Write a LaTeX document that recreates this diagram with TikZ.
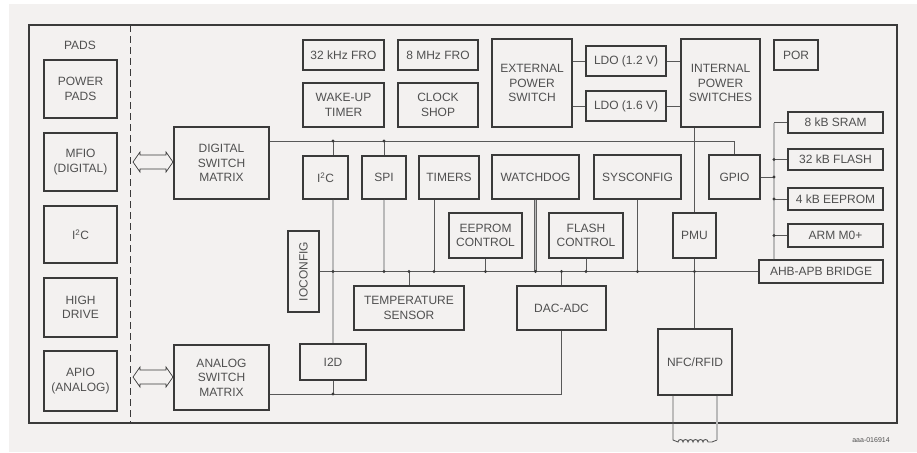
\documentclass[tikz,border=0pt]{standalone}
\usepackage{fontspec}
\setmainfont{Liberation Sans}
\definecolor{bg}{HTML}{F3F1F0}
\definecolor{ln}{HTML}{3A3A3A}
\definecolor{tx}{HTML}{505050}
\tikzset{
  box/.style={draw=ln, line width=1.3pt, inner sep=0pt, align=center, text=tx,
    font=\fontsize{12}{14.5}\selectfont},
  wire/.style={draw=ln!85, line width=0.9pt},
  thickwire/.style={draw=ln!80, line width=0.5pt, double=gray!55, double distance=1.3pt},
  jdot/.style={circle, fill=ln, inner sep=0pt, minimum size=3.4pt},
  hollowarrow/.style={draw=ln, line width=0.7pt},
}
\newcommand\bx[6]{\node[box, minimum width={(#4)-(#2)}, minimum height={(#5)-(#3)}] (#1) at ({((#2)+(#4))/2},{((#3)+(#5))/2}) {#6};}
\begin{document}
\begin{tikzpicture}[x=1pt,y=-1pt]
\useasboundingbox (0,0) rectangle (917,452);
\fill[white] (0,0) rectangle (917,452);
\fill[bg] (9,4) rectangle (917,452);
% chip outline and pad separator
\draw[ln, line width=1.3pt] (29,25) rectangle (897,423);
\draw[ln, line width=0.8pt, dash pattern=on 7pt off 4pt] (130,25) -- (130,423);
\node[text=tx, font=\fontsize{12}{14.5}\selectfont] (pads) at (80,45) {PADS};
% pads
\bx{pwr}{44}{60}{117}{118}{POWER\\PADS}
\bx{mfio}{44}{133}{117}{191}{MFIO\\(DIGITAL)}
\bx{pi2c}{44}{206}{117}{263}{I\textsuperscript{2}C}
\bx{hd}{44}{278}{117}{337}{HIGH\\DRIVE}
\bx{apio}{44}{351}{117}{411}{APIO\\(ANALOG)}
% switch matrices
\bx{dsm}{174}{127}{269}{199}{DIGITAL\\SWITCH\\MATRIX}
\bx{asm}{174}{345}{269}{410}{ANALOG\\SWITCH\\MATRIX}
% top row
\bx{fa}{303}{40}{384}{70}{32 kHz FRO}
\bx{fb}{398}{40}{478}{70}{8 MHz FRO}
\bx{wut}{303}{83}{384}{127}{WAKE-UP\\TIMER}
\bx{clk}{398}{83}{478}{127}{CLOCK\\SHOP}
\bx{eps}{492}{39}{572}{127}{EXTERNAL\\POWER\\SWITCH}
\bx{ldoa}{586}{46}{666}{76}{LDO (1.2 V)}
\bx{ldob}{586}{91}{666}{121}{LDO (1.6 V)}
\bx{ips}{681}{39}{760}{127}{INTERNAL\\POWER\\SWITCHES}
\bx{por}{774}{40}{818}{70}{POR}
% peripherals
\bx{i2c}{303}{156}{348}{199}{I\textsuperscript{2}C}
\bx{spi}{362}{156}{406}{199}{SPI}
\bx{tim}{419}{156}{479}{199}{TIMERS}
\bx{wd}{492}{155}{579}{199}{WATCHDOG}
\bx{sys}{594}{155}{681}{199}{SYSCONFIG}
\bx{gpio}{709}{155}{760}{199}{GPIO}
\bx{eec}{449}{213}{522}{258}{EEPROM\\CONTROL}
\bx{flc}{549}{213}{623}{258}{FLASH\\CONTROL}
\bx{pmu}{673}{213}{716}{258}{PMU}
\bx{ioc}{288}{231}{319}{312}{\rotatebox{90}{IOCONFIG}}
\bx{temp}{354}{286}{464}{330}{TEMPERATURE\\SENSOR}
\bx{dac}{517}{286}{606}{330}{DAC-ADC}
\bx{i2d}{300}{344}{366}{380}{I2D}
\bx{nfc}{658}{329}{732}{395}{NFC/RFID}
% memories
\bx{sram}{788}{112}{883}{133}{8 kB SRAM}
\bx{fl32}{788}{149}{883}{170}{32 kB FLASH}
\bx{ee4}{788}{188}{883}{210}{4 kB EEPROM}
\bx{arm}{788}{224}{883}{247}{ARM M0+}
\bx{ahb}{759}{260}{883}{283}{AHB-APB BRIDGE}
% helper coordinates
\coordinate (Y1) at (0,141);
\coordinate (Y3) at (0,394);
\coordinate (X1) at (333,0);
\coordinate (XT) at (434,0);
\coordinate (XM) at (774,0);
% upper bus
\draw[wire] (dsm.east |- Y1) -- (gpio.north |- Y1) -- (gpio.north);
\draw[wire] (X1 |- Y1) -- (X1 |- i2c.north);
\draw[wire] (spi.north |- Y1) -- (spi.north);
% power
\draw[wire] (eps.east |- ldoa) -- (ldoa.west);
\draw[wire] (ldoa.east) -- (ips.west |- ldoa);
\draw[wire] (eps.east |- ldob) -- (ldob.west);
\draw[wire] (ldob.east) -- (ips.west |- ldob);
\draw[wire] (pmu.north |- ips.south) -- (pmu.north);
\draw[wire] (pmu.south) -- (pmu.south |- nfc.north);
% lower bus
\draw[wire] (ioc.east) -- (ahb.west);
\draw[thickwire] (X1 |- i2c.south) -- (i2d.north);
\draw[thickwire] (spi.south) -- (spi.south |- ioc.east);
\draw[wire] (XT |- tim.south) -- (XT |- ioc.east);
\draw[wire] (temp.north) -- (temp.north |- ioc.east);
\draw[wire] (eec.south) -- (eec.south |- ioc.east);
\draw[thickwire] (wd.south) -- (wd.south |- ioc.east);
\draw[wire] (dac.north) -- (dac.north |- ioc.east);
\draw[wire] (flc.south) -- (flc.south |- ioc.east);
\draw[wire] (sys.south) -- (sys.south |- ioc.east);
% analog bus
\draw[wire] (i2d.south) -- (i2d.south |- Y3);
\draw[wire] (asm.east |- Y3) -- (dac.south |- Y3) -- (dac.south);
% memory bus
\draw[thickwire] (XM |- ahb.north) -- (XM |- sram.west);
\draw[wire] (XM |- sram.west) -- (sram.west);
\draw[wire] (XM |- fl32.west) -- (fl32.west);
\draw[wire] (XM |- ee4.west) -- (ee4.west);
\draw[wire] (XM |- arm.west) -- (arm.west);
\draw[wire] (gpio.east) -- (XM |- gpio.east);
% junction dots
\foreach \p in {{X1 |- Y1},{spi.north |- Y1},{X1 |- ioc.east},{spi.south |- ioc.east},
  {temp.north |- ioc.east},{XT |- ioc.east},{eec.south |- ioc.east},{wd.south |- ioc.east},
  {dac.north |- ioc.east},{flc.south |- ioc.east},{sys.south |- ioc.east},{pmu.south |- ioc.east},
  {X1 |- Y3},{XM |- fl32.west},{XM |- gpio.east},{XM |- ee4.west},{XM |- arm.west}}
  \node[jdot] at (\p) {};
% NFC antenna
\coordinate (antL) at (673,440);
\coordinate (antR) at (717,440);
\draw[wire] (antL |- nfc.south) -- (antL) -- (678,442)
  arc[start angle=180, end angle=360, radius=2.5]
  arc[start angle=180, end angle=360, radius=2.5]
  -- (688,442)
  arc[start angle=180, end angle=360, radius=2.5]
  arc[start angle=180, end angle=360, radius=2.5]
  -- (698,442)
  arc[start angle=180, end angle=360, radius=2.5]
  arc[start angle=180, end angle=360, radius=2.5]
  -- (712,442) -- (antR);
\draw[thickwire] (antR |- nfc.south) -- (antR);
% hollow double arrows between pads and switch matrices
\coordinate (dA) at (133,162);
\coordinate (dB) at (173,162);
\draw[hollowarrow] (dA) -- ++(7,-10) -- ++(0,3) -- ++(26,0) -- ++(0,-3) -- (dB)
  -- ++(-7,10) -- ++(0,-3) -- ++(-26,0) -- ++(0,3) -- cycle;
\coordinate (aA) at (133,377);
\coordinate (aB) at (173,377);
\draw[hollowarrow] (aA) -- ++(7,-10) -- ++(0,3) -- ++(26,0) -- ++(0,-3) -- (aB)
  -- ++(-7,10) -- ++(0,-3) -- ++(-26,0) -- ++(0,3) -- cycle;
% figure code
\node[text=tx, font=\fontsize{7}{8}\selectfont] (wm) at (871,440) {aaa-016914};
\end{tikzpicture}
\end{document}
